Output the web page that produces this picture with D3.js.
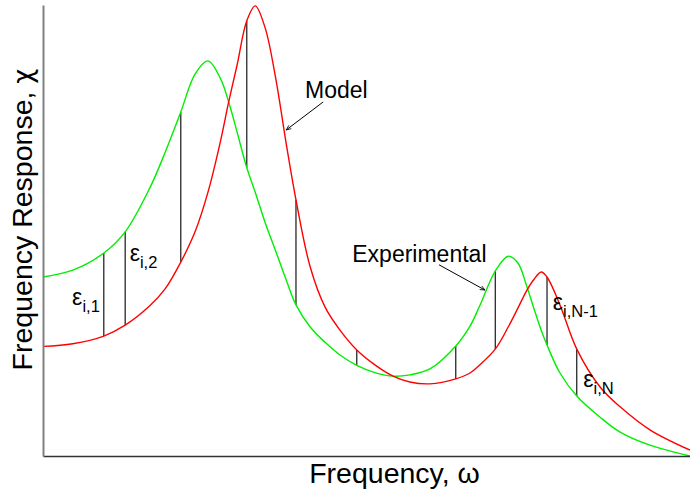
<!DOCTYPE html>
<html>
<head>
<meta charset="utf-8">
<script src="https://cdn.jsdelivr.net/npm/d3@7"></script>
<style>
  html, body { margin: 0; padding: 0; background: #fff; }
  svg { display: block; font-family: "Liberation Sans", Arial, Helvetica, sans-serif; }
</style>
</head>
<body>
<svg id="chart" width="690" height="493"></svg>
<script>
// Frequency samples (arbitrary units, 0-100) shared by both curves.
const freq = [0, 4.6, 9.4, 12.7, 16.5, 18.9, 21.3, 23.5, 25.5, 27.4, 28.7, 30.0, 31.5, 32.8,
  34.3, 35.9, 37.7, 39.1, 41.3, 43.6, 45.9, 48.5, 51.3, 54.1, 56.7, 59.8, 63.8, 66.0, 67.5,
  69.9, 71.9, 73.4, 74.8, 75.9, 77.0, 77.9, 79.9, 82.5, 86.1, 89.2, 93.8, 100];

// Measured response (green).
const experimental = [39.7, 41.2, 45.0, 49.7, 59.4, 67.4, 76.3, 84.7, 87.6, 83.8, 78.5, 71.8,
  63.9, 58.5, 51.9, 45.7, 38.6, 33.5, 28.6, 25.2, 22.4, 20.1, 18.5, 17.7, 18.0, 19.3, 24.4,
  28.8, 33.3, 41.0, 44.3, 42.8, 37.5, 32.6, 27.9, 24.6, 18.4, 13.3, 8.6, 5.3, 2.4, 0];

// Model response (red).
const model = [24.3, 24.9, 26.6, 29.0, 33.3, 37.1, 43.0, 49.7, 58.5, 69.6, 78.5, 86.7, 96.5,
  99.8, 95.1, 84.3, 68.3, 56.8, 41.9, 33.0, 27.9, 23.5, 20.2, 17.7, 16.4, 16.0, 17.1, 18.4,
  20.2, 23.7, 28.6, 32.8, 36.8, 39.2, 40.8, 39.7, 33.5, 23.7, 15.3, 10.9, 5.8, 1.3];

// Frequencies where the residual epsilon is drawn.
const residualFreq = [9.4, 12.7, 21.3, 31.5, 39.1, 48.5, 63.8, 69.9, 77.9, 82.5];

// Residual labels: [main, subscript, freq, response].
const residualLabels = [
  ["ε", "i,1", 4.5, 33.5],
  ["ε", "i,2", 13.4, 43.2],
  ["ε", "i,N-1", 78.8, 32.4],
  ["ε", "i,N", 83.5, 15.3]
];

// Curve annotations: [text, textFreq, textResp, fromFreq, fromResp, toFreq, toResp].
const callouts = [
  ["Model", 40.5, 79.4, 43.3, 78.5, 37.6, 72.3],
  ["Experimental", 47.8, 43.0, 61.2, 42.4, 68.3, 36.8]
];

const svg = d3.select("#chart");
const margin = { top: 5, right: 0, bottom: 37, left: 43 };
const width = +svg.attr("width");
const height = +svg.attr("height");

const x = d3.scaleLinear().domain([0, 100]).range([margin.left, width - margin.right]);
const y = d3.scaleLinear().domain([0, 100]).range([height - margin.bottom, margin.top]);

const line = (vals) => d3.line()
  .x((d, i) => x(freq[i]))
  .y((d) => y(d))
  .curve(d3.curveCatmullRom.alpha(0.5))(vals);

// Residual segments between the two curves
const resid = residualFreq.map((f) => {
  const i = freq.indexOf(f);
  return { f, a: experimental[i], b: model[i] };
});
svg.append("g")
  .selectAll("line")
  .data(resid)
  .join("line")
  .attr("x1", (d) => x(d.f)).attr("x2", (d) => x(d.f))
  .attr("y1", (d) => y(d.a)).attr("y2", (d) => y(d.b))
  .attr("stroke", "#000")
  .attr("stroke-width", 1.1);

svg.append("path")
  .attr("d", line(experimental))
  .attr("fill", "none")
  .attr("stroke", "#00ee00")
  .attr("stroke-width", 1.4);

svg.append("path")
  .attr("d", line(model))
  .attr("fill", "none")
  .attr("stroke", "#ff0000")
  .attr("stroke-width", 1.4);

// Axes: plain domain lines, no ticks
const xAxis = svg.append("g")
  .attr("transform", `translate(0,${y(0)})`)
  .call(d3.axisBottom(x).tickValues([]).tickSizeOuter(0));
xAxis.select(".domain").attr("stroke", "#333").attr("stroke-width", 1.5);

const yAxis = svg.append("g")
  .attr("transform", `translate(${x(0)},0)`)
  .call(d3.axisLeft(y).tickValues([]).tickSizeOuter(0));
yAxis.select(".domain").attr("stroke", "#808080").attr("stroke-width", 2);

svg.append("text")
  .attr("x", (x(0) + x(100)) / 2 + 28)
  .attr("y", height - 10)
  .attr("text-anchor", "middle")
  .attr("font-size", 28.5)
  .attr("fill", "#000")
  .text("Frequency, ω");

const yTitle = svg.append("text")
  .attr("transform", `translate(32,${(y(0) + y(100)) / 2 - 11}) rotate(-90)`)
  .attr("text-anchor", "middle")
  .attr("font-size", 28.5)
  .attr("fill", "#000");
yTitle.append("tspan").text("Frequency Response, ");
yTitle.append("tspan").attr("font-family", "'DejaVu Sans'").attr("font-size", 26).text("χ");

// Residual labels
const eps = svg.append("g")
  .selectAll("text")
  .data(residualLabels)
  .join("text")
  .attr("x", (d) => x(d[2]))
  .attr("y", (d) => y(d[3]))
  .attr("font-size", 23)
  .attr("fill", "#000");
eps.append("tspan").text((d) => d[0]);
eps.append("tspan").attr("font-size", 16.5).attr("dy", 7).text((d) => d[1]);

// Arrow marker
svg.append("defs").append("marker")
  .attr("id", "arrow")
  .attr("viewBox", "0 0 10 10")
  .attr("refX", 9).attr("refY", 5)
  .attr("markerWidth", 6).attr("markerHeight", 6)
  .attr("orient", "auto")
  .append("path")
  .attr("d", "M1,1.5 L9,5 L1,8.5")
  .attr("fill", "none")
  .attr("stroke", "#000")
  .attr("stroke-width", 1.3);

const co = svg.append("g").selectAll("g").data(callouts).join("g");
co.append("text")
  .attr("x", (d) => x(d[1]))
  .attr("y", (d) => y(d[2]))
  .attr("font-size", 23)
  .attr("fill", "#000")
  .text((d) => d[0]);
co.append("line")
  .attr("x1", (d) => x(d[3])).attr("y1", (d) => y(d[4]))
  .attr("x2", (d) => x(d[5])).attr("y2", (d) => y(d[6]))
  .attr("stroke", "#000")
  .attr("stroke-width", 1)
  .attr("marker-end", "url(#arrow)");
</script>
</body>
</html>
